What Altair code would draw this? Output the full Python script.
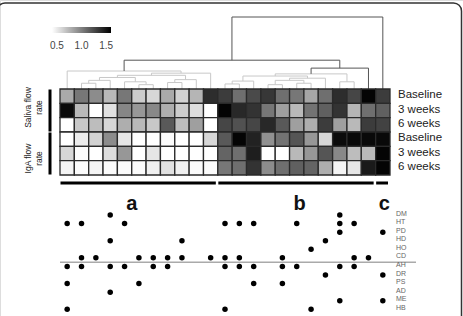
import altair as alt
import pandas as pd

# ---------------- data ----------------
columns = list(range(1, 24))
row_names = ["Baseline", "3 weeks", "6 weeks", "Baseline", "3 weeks", "6 weeks"]

saliva_base = [0.80, 1.04, 0.94, 0.73, 1.04, 0.64, 0.59, 0.80, 0.61, 0.75, 1.39, 1.32, 1.08, 1.25, 1.34, 1.08, 1.04, 0.82, 1.08, 1.39, 1.27, 1.58, 1.32]
saliva_3w = [1.55, 0.73, 0.40, 0.54, 0.97, 0.89, 0.96, 0.78, 0.64, 0.56, 0.40, 1.58, 1.41, 1.36, 1.04, 0.85, 0.73, 1.06, 1.15, 1.36, 0.75, 1.08, 1.15]
saliva_6w = [0.40, 0.66, 0.71, 0.59, 0.78, 0.73, 0.66, 1.18, 0.71, 0.85, 0.40, 1.27, 1.22, 1.27, 1.41, 1.18, 0.85, 0.78, 1.32, 0.85, 0.73, 1.32, 1.29]
iga_base = [0.40, 0.49, 0.61, 0.94, 0.52, 0.40, 0.40, 0.42, 0.40, 0.40, 0.59, 1.18, 1.58, 1.44, 0.92, 1.06, 1.20, 0.89, 0.59, 1.55, 1.56, 1.56, 1.56]
iga_3w = [0.59, 0.42, 0.40, 0.56, 0.89, 0.40, 0.52, 0.40, 0.40, 0.40, 0.40, 1.13, 1.08, 1.46, 0.40, 0.40, 0.73, 0.89, 1.20, 0.96, 0.71, 0.73, 1.58]
iga_6w = [0.45, 0.42, 0.45, 0.42, 0.42, 0.42, 0.47, 0.54, 0.47, 0.42, 0.42, 1.04, 1.08, 1.36, 0.94, 1.08, 1.15, 1.13, 0.78, 0.45, 0.52, 1.48, 1.58]

group_labels = ["Saliva flow\nrate", "IgA flow\nrate"]
group_row_start = [0, 3]
group_row_end = [3, 6]

cluster_names = ["a", "b", "c"]
cluster_first_col = [1, 12, 23]
cluster_last_col = [11, 22, 23]
cluster_label_col = [5.5, 17.2, 23.1]

factors = ["DM", "HT", "PD", "HD", "HO", "CD", "AH", "DR", "PS", "AD", "ME", "HB"]
factor_cols = {
    "DM": [4, 20],
    "HT": [1, 2, 5, 12, 13, 14, 17, 20, 21],
    "PD": [20, 23],
    "HD": [4, 9, 19],
    "HO": [18],
    "CD": [2, 3, 6, 7, 8, 9, 11, 12, 13, 16, 21, 22],
    "AH": [1, 2, 4, 5, 7, 8, 12, 13, 14, 16, 17, 20, 21],
    "DR": [19, 23],
    "PS": [1, 6, 14, 16],
    "AD": [4],
    "ME": [20, 23],
    "HB": [1, 12, 18],
}

# dendrogram merges: (node, left, right, height)
merges = [
    ("a1", 2, 3, 0.08), ("a2", "a1", 4, 0.12), ("a3", 6, 7, 0.06), ("a4", 5, "a3", 0.10),
    ("a5", 8, 9, 0.09), ("a6", "a5", 10, 0.13), ("a7", "a2", "a4", 0.16), ("a8", "a7", "a6", 0.19),
    ("a9", "a8", 11, 0.22), ("A", 1, "a9", 0.25),
    ("b1", 12, 13, 0.07), ("b2", "b1", 14, 0.11), ("b3", 15, 16, 0.06), ("b4", 17, 18, 0.08),
    ("b5", "b3", "b4", 0.12), ("b6", "b5", 19, 0.15), ("b7", "b2", "b6", 0.18), ("b8", 20, 21, 0.10),
    ("B", "b7", "b8", 0.21),
    ("C", "B", 22, 0.29), ("P", "A", "C", 0.40), ("R", "P", 23, 1.00),
]
upper_nodes = ["C", "P", "R"]

fan_group = ["a", "a", "a", "b", "b", "b"]
fan_col = [0.5, 5.0, 11.5, 11.5, 18.0, 21.5]
fan_height = [0.0, 0.24, 0.0, 0.0, 0.20, 0.0]

legend_values = [0.5, 1.0, 1.5]

# ---------------- tables ----------------
series = [saliva_base, saliva_3w, saliva_6w, iga_base, iga_3w, iga_6w]
hm_rows = []
for r, vals in enumerate(series):
    for c, v in zip(columns, vals):
        hm_rows.append({"col": c, "x0": c - 0.5, "x1": c + 0.5, "r0": r, "r1": r + 1, "value": v})
hm_df = pd.DataFrame(hm_rows)

lab_df = pd.DataFrame({"name": row_names, "rc": [i + 0.5 for i in range(6)]})
grp_df = pd.DataFrame({"label": group_labels, "r0": group_row_start, "r1": group_row_end,
                       "rc": [(a + b) / 2 for a, b in zip(group_row_start, group_row_end)]})
clu_df = pd.DataFrame({"name": cluster_names,
                       "x0": [c - 0.5 for c in cluster_first_col],
                       "x1": [c + 0.5 for c in cluster_last_col],
                       "xl": cluster_label_col})

dot_rows = []
for i, f in enumerate(factors):
    for c in factor_cols[f]:
        dot_rows.append({"factor": f, "fi": i, "col": c})
dot_df = pd.DataFrame(dot_rows)
fac_df = pd.DataFrame({"factor": factors, "fi": list(range(len(factors)))})
line_df = pd.DataFrame({"x0": [0.5], "fi": [5.5]})

pos = {c: float(c) for c in columns}
hgt = {c: 0.0 for c in columns}
segs = []
for name, l, r, h in merges:
    xl, xr = pos[l], pos[r]
    tone = "dark" if name in upper_nodes else "light"
    segs.append({"x": xl, "x2": xr, "h": h, "h2": h, "tone": tone})
    segs.append({"x": xl, "x2": xl, "h": h, "h2": hgt[l], "tone": tone})
    segs.append({"x": xr, "x2": xr, "h": h, "h2": hgt[r], "tone": tone})
    pos[name] = (xl + xr) / 2
    hgt[name] = h
seg_df = pd.DataFrame(segs)
fan_df = pd.DataFrame({"g": fan_group, "x": fan_col, "h": fan_height})
frame_df = pd.DataFrame({"k": ["frame"]})

# ---------------- scales ----------------
FONT = "Liberation Sans"
xs = alt.Scale(domain=[0.5, 23.5], range=[60, 390])
hm_y = alt.Scale(domain=[0, 6], range=[89, 175])
dend_y = alt.Scale(domain=[0, 1], range=[89, 17])
dot_y = alt.Scale(domain=[0, 11], range=[215, 309.3])

frame = alt.Chart(frame_df).mark_rect(fill=None, stroke="#333333", strokeWidth=1.5, cornerRadius=8).encode(
    x=alt.value(-3), x2=alt.value(461.5), y=alt.value(3), y2=alt.value(340),
)

fans = alt.Chart(fan_df).mark_area(color="#dedede", opacity=1).encode(
    x=alt.X("x:Q", scale=xs, axis=None),
    y=alt.Y("h:Q", scale=dend_y, axis=None),
    detail="g:N",
    order="x:Q",
)

light_seg = alt.Chart(seg_df).transform_filter("datum.tone == 'light'").mark_rule(
    color="#c8c8c8", strokeWidth=1).encode(
    x=alt.X("x:Q", scale=xs, axis=None), x2="x2:Q",
    y=alt.Y("h:Q", scale=dend_y, axis=None), y2="h2:Q",
)
dark_seg = alt.Chart(seg_df).transform_filter("datum.tone == 'dark'").mark_rule(
    color="#555555", strokeWidth=1).encode(
    x=alt.X("x:Q", scale=xs, axis=None), x2="x2:Q",
    y=alt.Y("h:Q", scale=dend_y, axis=None), y2="h2:Q",
)

heat = alt.Chart(hm_df).mark_rect(stroke="#2a2a2a", strokeWidth=1.3).encode(
    x=alt.X("x0:Q", scale=xs, axis=None), x2="x1:Q",
    y=alt.Y("r0:Q", scale=hm_y, axis=None), y2="r1:Q",
    color=alt.Color("value:Q",
                    scale=alt.Scale(domain=[0.4, 1.6], range=["#ffffff", "#000000"], clamp=True,
                                    interpolate="rgb"),
                    legend=alt.Legend(orient="none", legendX=52, legendY=27, direction="horizontal",
                                      title=None, gradientLength=59, gradientThickness=6,
                                      gradientStrokeWidth=0, values=legend_values, format=".1f",
                                      labelFontSize=10, labelColor="#444", labelOffset=8,
                                      labelFont=FONT, padding=0)),
)

row_text = alt.Chart(lab_df).mark_text(align="left", baseline="middle", fontSize=11.5,
                                       color="#222", font=FONT, dy=-1).encode(
    x=alt.value(398),
    y=alt.Y("rc:Q", scale=hm_y, axis=None),
    text="name:N",
)

side_bars = alt.Chart(grp_df).mark_rule(color="black", strokeWidth=3, yOffset=0.5, y2Offset=-0.5).encode(
    x=alt.value(50),
    y=alt.Y("r0:Q", scale=hm_y, axis=None), y2="r1:Q",
)

side_text_1 = alt.Chart(grp_df).transform_filter("datum.r0 == 0").mark_text(
    angle=270, align="center", baseline="middle", fontSize=8.5, lineBreak="\n", lineHeight=11,
    color="#222", font=FONT, yOffset=-3).encode(
    x=alt.value(28), y=alt.Y("rc:Q", scale=hm_y, axis=None), text="label:N")
side_text_2 = alt.Chart(grp_df).transform_filter("datum.r0 == 3").mark_text(
    angle=270, align="center", baseline="middle", fontSize=8.5, lineBreak="\n", lineHeight=11,
    color="#222", font=FONT, yOffset=5).encode(
    x=alt.value(28), y=alt.Y("rc:Q", scale=hm_y, axis=None), text="label:N")

cluster_bars = alt.Chart(clu_df).mark_rule(color="black", strokeWidth=3, xOffset=0.5, x2Offset=-2).encode(
    x=alt.X("x0:Q", scale=xs, axis=None), x2="x1:Q",
    y=alt.value(183),
)
cluster_text = alt.Chart(clu_df).mark_text(fontSize=20, fontWeight="bold", baseline="alphabetic",
                                           color="#111", font=FONT).encode(
    x=alt.X("xl:Q", scale=xs, axis=None),
    y=alt.value(210),
    text="name:N",
)

sep_line = alt.Chart(line_df).mark_rule(color="#aaaaaa", strokeWidth=1.5).encode(
    x=alt.X("x0:Q", scale=xs, axis=None), x2=alt.value(416),
    y=alt.Y("fi:Q", scale=dot_y, axis=None),
)
dots = alt.Chart(dot_df).mark_circle(color="black", opacity=1, size=30).encode(
    x=alt.X("col:Q", scale=xs, axis=None),
    y=alt.Y("fi:Q", scale=dot_y, axis=None),
)
fac_text = alt.Chart(fac_df).mark_text(align="left", baseline="middle", fontSize=7, color="#666",
                                       font=FONT, dy=-1.5).encode(
    x=alt.value(396),
    y=alt.Y("fi:Q", scale=dot_y, axis=None),
    text="factor:N",
)

chart = alt.layer(
    frame, fans, light_seg, dark_seg, heat, row_text, side_bars, side_text_1, side_text_2,
    cluster_bars, cluster_text, sep_line, dots, fac_text,
).resolve_scale(y="independent").properties(
    width=463, height=316,
    padding=0,
    autosize=alt.AutoSizeParams(type="none"),
).configure_view(stroke=None).configure(font=FONT)

chart.save("out.html", embed_options={"renderer": "svg", "actions": False})
